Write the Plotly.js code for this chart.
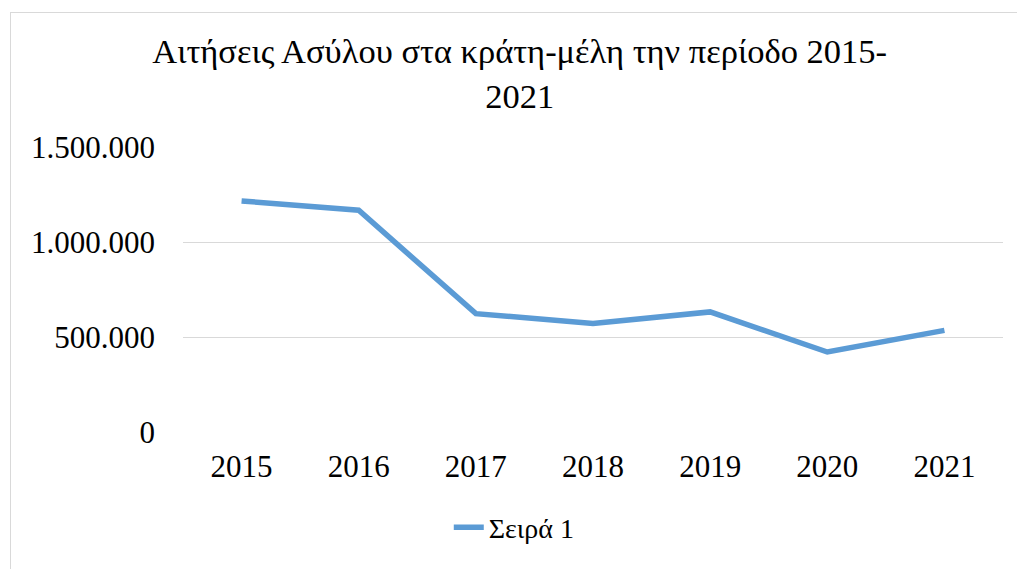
<!DOCTYPE html>
<html>
<head>
<meta charset="utf-8">
<script src="https://cdn.plot.ly/plotly-3.0.1.min.js"></script>
<style>
html, body { margin: 0; padding: 0; background: #fff; overflow: hidden; }
#chart { position: absolute; left: 0; top: 0; width: 1017px; height: 569px; }
#frame { position: absolute; left: 10px; top: 12px; width: 1040px; height: 600px; border: 1px solid #d9d9d9; box-sizing: border-box; pointer-events: none; }
</style>
</head>
<body>
<div id="chart"></div>
<div id="frame"></div>
<script>
const years = ['2015', '2016', '2017', '2018', '2019', '2020', '2021'];
const applications = [1216000, 1167000, 623000, 571000, 632000, 421000, 535000];
const yTickValues = [0, 500000, 1000000, 1500000];
const yTickLabels = ['0', '500.000', '1.000.000', '1.500.000'];
const seriesName = 'Σειρά 1';
const titleText = 'Αιτήσεις Ασύλου στα κράτη-μέλη την περίοδο 2015-<br>2021';

const font = '"Liberation Serif", "Times New Roman", serif';

const trace = {
  type: 'scatter',
  mode: 'lines',
  x: years,
  y: applications,
  name: seriesName,
  line: { color: '#5b9bd5', width: 5.5, shape: 'linear' },
  hoverinfo: 'x+y'
};

const layout = {
  width: 1017,
  height: 569,
  paper_bgcolor: '#ffffff',
  plot_bgcolor: '#ffffff',
  margin: { l: 183, r: 14, t: 147, b: 137 },
  font: { family: font, color: '#000000', size: 31 },
  title: {
    text: titleText,
    font: { family: font, size: 34.5, color: '#000000' },
    xref: 'container', x: 0.511, xanchor: 'center',
    yref: 'container', y: 1 - 63 / 569, yanchor: 'top'
  },
  xaxis: {
    type: 'category',
    range: [-0.5, 6.5],
    showgrid: false,
    zeroline: false,
    showline: false,
    ticks: '',
    tickfont: { family: font, size: 31, color: '#000000' },
    ticklabelstandoff: 13,
    fixedrange: true
  },
  yaxis: {
    range: [0, 1500000],
    tickvals: yTickValues,
    ticktext: yTickLabels,
    showgrid: true,
    gridcolor: '#d9d9d9',
    gridwidth: 1,
    zeroline: false,
    showline: false,
    ticks: '',
    tickfont: { family: font, size: 31, color: '#000000' },
    ticklabelstandoff: 27,
    fixedrange: true
  },
  showlegend: true,
  legend: {
    orientation: 'h',
    x: 0.404, xanchor: 'center',
    y: -0.335, yanchor: 'middle',
    font: { family: font, size: 28, color: '#000000' },
    itemwidth: 30,
    bgcolor: 'rgba(0,0,0,0)'
  }
};

Plotly.newPlot('chart', [trace], layout, { displayModeBar: false, staticPlot: true });
</script>
</body>
</html>
